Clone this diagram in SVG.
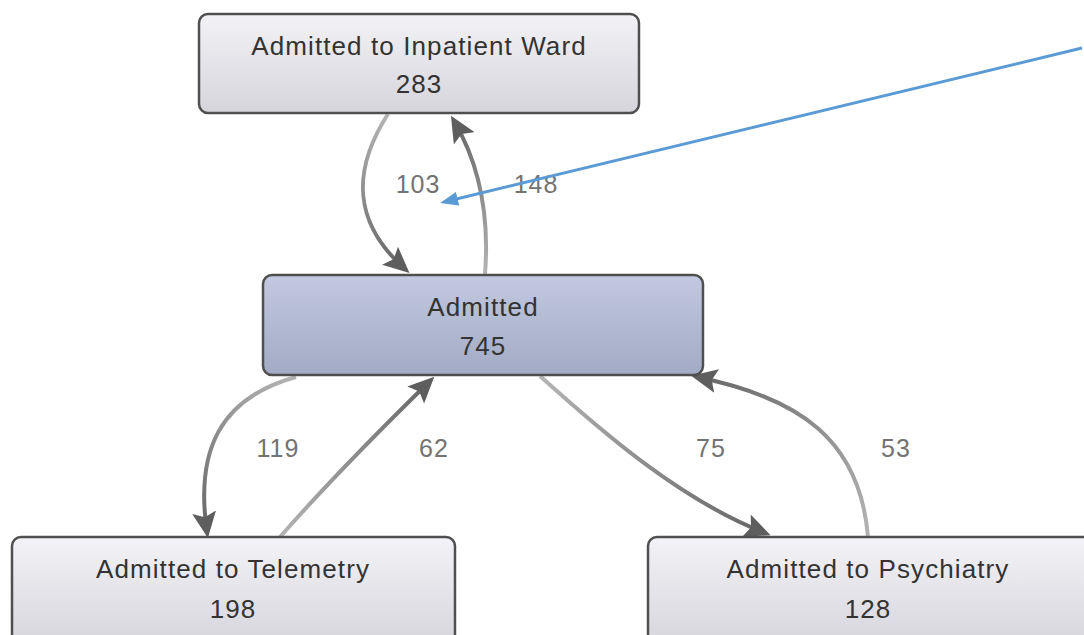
<svg xmlns="http://www.w3.org/2000/svg" width="1084" height="635" viewBox="0 0 1084 635">
  <defs>
    <linearGradient id="fillGray" x1="0" y1="0" x2="0" y2="1">
      <stop offset="0" stop-color="#f3f2f6"/>
      <stop offset="1" stop-color="#d6d5dc"/>
    </linearGradient>
    <linearGradient id="fillBlue" x1="0" y1="0" x2="0" y2="1">
      <stop offset="0" stop-color="#c2c9e0"/>
      <stop offset="1" stop-color="#a2aac5"/>
    </linearGradient>
    <!-- edge strokes fade from light at the tail to dark at the head -->
    <linearGradient id="g103" gradientUnits="userSpaceOnUse" x1="388" y1="114" x2="405" y2="270">
      <stop offset="0" stop-color="#b4b4b4"/><stop offset="1" stop-color="#666"/>
    </linearGradient>
    <linearGradient id="g148" gradientUnits="userSpaceOnUse" x1="485" y1="274" x2="454" y2="120">
      <stop offset="0" stop-color="#b4b4b4"/><stop offset="1" stop-color="#666"/>
    </linearGradient>
    <linearGradient id="g119" gradientUnits="userSpaceOnUse" x1="295" y1="377" x2="207" y2="532">
      <stop offset="0" stop-color="#b4b4b4"/><stop offset="1" stop-color="#666"/>
    </linearGradient>
    <linearGradient id="g62" gradientUnits="userSpaceOnUse" x1="280" y1="537" x2="430" y2="381">
      <stop offset="0" stop-color="#b4b4b4"/><stop offset="1" stop-color="#666"/>
    </linearGradient>
    <linearGradient id="g75" gradientUnits="userSpaceOnUse" x1="540" y1="376" x2="765" y2="534">
      <stop offset="0" stop-color="#b4b4b4"/><stop offset="1" stop-color="#666"/>
    </linearGradient>
    <linearGradient id="g53" gradientUnits="userSpaceOnUse" x1="868" y1="537" x2="696" y2="376">
      <stop offset="0" stop-color="#b4b4b4"/><stop offset="1" stop-color="#666"/>
    </linearGradient>
    <marker id="head" markerUnits="userSpaceOnUse" markerWidth="26" markerHeight="24" refX="20" refY="12" orient="auto">
      <path d="M0,0 L26,12 L0,24 L5,12 Z" fill="#5e5e5e"/>
    </marker>
    <marker id="blueHead" markerUnits="userSpaceOnUse" markerWidth="18" markerHeight="14" refX="14" refY="7" orient="auto">
      <path d="M0,0 L18,7 L0,14 Z" fill="#5b9bd5"/>
    </marker>
  </defs>
  <style>
    .box { stroke: #4f4f4f; stroke-width: 2.5; }
    .name { font-family: "Liberation Sans", Arial, sans-serif; font-size: 26px; fill: #333; text-anchor: middle; letter-spacing: 1.1px; }
    .edge { fill: none; stroke-width: 4; marker-end: url(#head); }
    .count { font-family: "Liberation Sans", Arial, sans-serif; font-size: 25px; fill: #737373; text-anchor: middle; letter-spacing: 1px; }
  </style>

  <rect width="1084" height="635" fill="#ffffff"/>

  <g id="connectors">
    <path class="edge" stroke="url(#g103)" d="M 388 114 C 352 170, 352 222, 405 269"/>
    <path class="edge" stroke="url(#g148)" d="M 485 274 C 490 210, 477 160, 454 121"/>
    <path class="edge" stroke="url(#g119)" d="M 296 377 C 220 398, 195 450, 207 532"/>
    <path class="edge" stroke="url(#g62)" d="M 280 537 C 330 480, 385 425, 430 381"/>
    <path class="edge" stroke="url(#g75)" d="M 540 376 C 600 430, 680 500, 765 533"/>
    <path class="edge" stroke="url(#g53)" d="M 868 537 C 860 440, 800 398, 697 377"/>
    <text class="count" x="418" y="193">103</text>
    <text class="count" x="536" y="193">148</text>
    <text class="count" x="278" y="457">119</text>
    <text class="count" x="434" y="457">62</text>
    <text class="count" x="711" y="457">75</text>
    <text class="count" x="896" y="457">53</text>
  </g>

  <g id="node-inpatient">
    <rect class="box" x="199" y="14" width="440" height="99" rx="9" fill="url(#fillGray)"/>
    <text class="name" x="419" y="55">Admitted to Inpatient Ward</text>
    <text class="name" x="419" y="93">283</text>
  </g>

  <g id="node-admitted">
    <rect class="box" x="263" y="275" width="440" height="100" rx="9" fill="url(#fillBlue)"/>
    <text class="name" x="483" y="316">Admitted</text>
    <text class="name" x="483" y="355">745</text>
  </g>

  <g id="node-telemetry">
    <rect class="box" x="12" y="537" width="443" height="110" rx="9" fill="url(#fillGray)"/>
    <text class="name" x="233" y="578">Admitted to Telemetry</text>
    <text class="name" x="233" y="618">198</text>
  </g>

  <g id="node-psychiatry">
    <rect class="box" x="648" y="537" width="450" height="110" rx="9" fill="url(#fillGray)"/>
    <text class="name" x="868" y="578">Admitted to Psychiatry</text>
    <text class="name" x="868" y="618">128</text>
  </g>

  <!-- callout pointer -->
  <g id="callout">
    <line x1="1082" y1="48" x2="444" y2="202" stroke="#5b9bd5" stroke-width="3" marker-end="url(#blueHead)"/>
  </g>
</svg>
